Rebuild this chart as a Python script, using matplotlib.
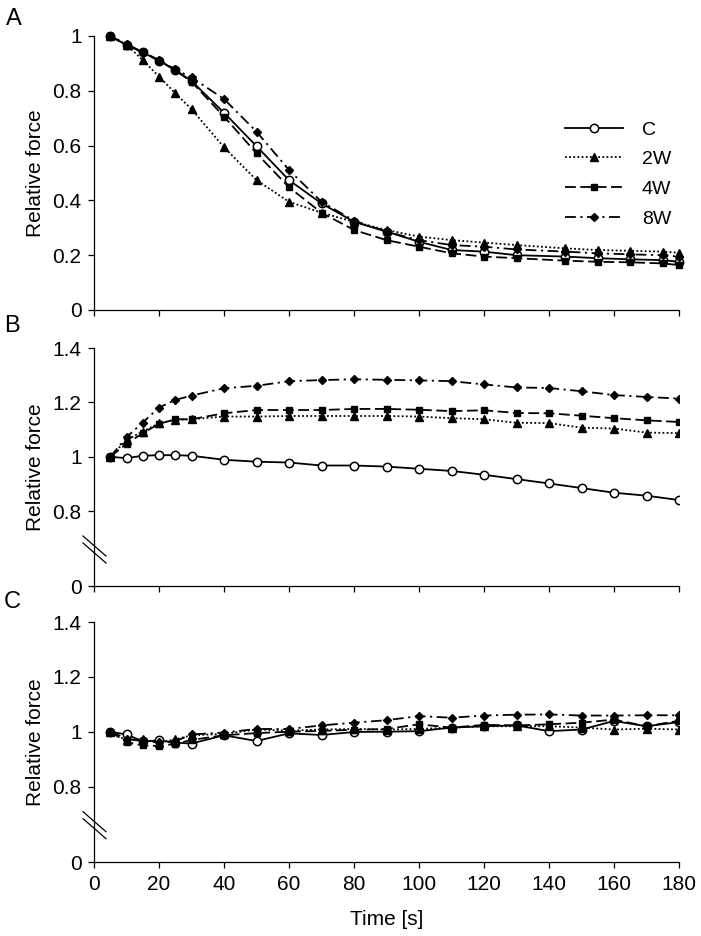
import matplotlib
matplotlib.use("Agg")
import matplotlib.pyplot as plt

plt.rcParams['font.family'] = ['Liberation Sans', 'DejaVu Sans']

# ---------------- data ----------------
series_names = ["C", "2W", "4W", "8W"]

t_a = [5, 10, 15, 20, 25, 30, 40, 50, 60, 70, 80, 90, 100, 110, 120, 130, 145, 155, 165, 175, 180]
a_C  = [1.0, 0.967, 0.940, 0.910, 0.876, 0.836, 0.720, 0.598, 0.474, 0.389, 0.322, 0.286, 0.249, 0.219, 0.213, 0.200, 0.195, 0.189, 0.185, 0.182, 0.176]
a_2W = [1.0, 0.968, 0.912, 0.852, 0.791, 0.733, 0.594, 0.474, 0.395, 0.355, 0.322, 0.292, 0.268, 0.255, 0.246, 0.237, 0.225, 0.219, 0.216, 0.213, 0.209]
a_4W = [1.0, 0.965, 0.940, 0.910, 0.875, 0.833, 0.706, 0.572, 0.448, 0.355, 0.292, 0.255, 0.231, 0.207, 0.195, 0.189, 0.180, 0.176, 0.174, 0.170, 0.164]
a_8W = [1.0, 0.970, 0.942, 0.912, 0.878, 0.849, 0.770, 0.651, 0.511, 0.395, 0.326, 0.286, 0.255, 0.237, 0.231, 0.221, 0.213, 0.207, 0.203, 0.200, 0.195]

t_bc = [5, 10, 15, 20, 25, 30, 40, 50, 60, 70, 80, 90, 100, 110, 120, 130, 140, 150, 160, 170, 180]
b_C  = [1.0, 0.995, 1.004, 1.006, 1.006, 1.004, 0.989, 0.982, 0.979, 0.968, 0.968, 0.964, 0.956, 0.948, 0.934, 0.918, 0.902, 0.885, 0.868, 0.857, 0.841]
b_2W = [1.0, 1.062, 1.093, 1.123, 1.136, 1.138, 1.148, 1.148, 1.150, 1.150, 1.150, 1.150, 1.148, 1.142, 1.138, 1.125, 1.124, 1.107, 1.104, 1.089, 1.087]
b_4W = [1.0, 1.048, 1.087, 1.121, 1.138, 1.138, 1.160, 1.172, 1.172, 1.172, 1.176, 1.176, 1.173, 1.168, 1.171, 1.161, 1.160, 1.151, 1.142, 1.134, 1.128]
b_8W = [1.0, 1.072, 1.126, 1.181, 1.209, 1.225, 1.252, 1.261, 1.278, 1.282, 1.285, 1.283, 1.281, 1.278, 1.266, 1.255, 1.253, 1.241, 1.227, 1.220, 1.214]

c_C  = [1.0, 0.990, 0.965, 0.968, 0.960, 0.957, 0.987, 0.966, 0.994, 0.988, 0.999, 1.000, 1.002, 1.015, 1.020, 1.023, 1.002, 1.008, 1.039, 1.020, 1.035]
c_2W = [1.0, 0.968, 0.972, 0.960, 0.972, 0.987, 0.992, 1.008, 1.004, 1.008, 1.010, 1.008, 1.010, 1.015, 1.020, 1.020, 1.020, 1.015, 1.008, 1.011, 1.008]
c_4W = [1.0, 0.962, 0.950, 0.948, 0.956, 0.970, 0.987, 0.995, 1.000, 1.003, 1.007, 1.010, 1.027, 1.015, 1.025, 1.023, 1.027, 1.033, 1.044, 1.020, 1.040]
c_8W = [1.0, 0.975, 0.965, 0.962, 0.965, 0.990, 0.997, 1.010, 1.010, 1.023, 1.033, 1.042, 1.057, 1.051, 1.059, 1.062, 1.063, 1.059, 1.059, 1.060, 1.060]

x_ticks = [0, 20, 40, 60, 80, 100, 120, 140, 160, 180]
a_yticks = [0, 0.2, 0.4, 0.6, 0.8, 1.0]
a_ylabels = ["0", "0.2", "0.4", "0.6", "0.8", "1"]
bc_yticks = [0.8, 1.0, 1.2, 1.4]
bc_ylabels = ["0.8", "1", "1.2", "1.4"]
bc_bottom = 0.525  # position where the broken axis shows "0"

# ---------------- styles ----------------
styles = {
    "C":  dict(linestyle='-', marker='o', markerfacecolor='white', markeredgecolor='black', markersize=6, markeredgewidth=1.1),
    "2W": dict(linestyle=(0, (1.0, 1.3)), marker='^', markerfacecolor='black', markeredgecolor='black', markersize=6),
    "4W": dict(linestyle=(0, (6, 2.5)), marker='s', markerfacecolor='black', markeredgecolor='black', markersize=5),
    "8W": dict(linestyle=(0, (6, 2.5, 1.2, 2.5)), marker='D', markerfacecolor='black', markeredgecolor='black', markersize=4.5),
}

FS = 15
W, H = 701, 936
fig = plt.figure(figsize=(W / 100, H / 100), dpi=100)

def ax_rect(top_px, bottom_px, left_px=94, right_px=679):
    return [left_px / W, 1 - bottom_px / H, (right_px - left_px) / W, (bottom_px - top_px) / H]

axA = fig.add_axes(ax_rect(36, 310))
axB = fig.add_axes(ax_rect(348, 586))
axC = fig.add_axes(ax_rect(622, 862))

def style_axis(ax):
    for s in ['top', 'right']:
        ax.spines[s].set_visible(False)
    for s in ['left', 'bottom']:
        ax.spines[s].set_linewidth(0.9)
    ax.set_xlim(0, 180)
    ax.set_xticks(x_ticks)
    ax.tick_params(direction='out', length=4, width=0.9, labelsize=FS, pad=5)
    ax.set_ylabel("Relative force", fontsize=FS, labelpad=5)

# Panel A
dataA = {"C": a_C, "2W": a_2W, "4W": a_4W, "8W": a_8W}
for name in series_names:
    axA.plot(t_a, dataA[name], color='black', lw=1.3, label=name, clip_on=False, **styles[name])
style_axis(axA)
axA.set_ylim(0, 1.0)
axA.set_yticks(a_yticks)
axA.set_yticklabels(a_ylabels)
axA.set_xticklabels([])
leg = axA.legend(loc='upper left', bbox_to_anchor=(0.805, 0.69), frameon=False, fontsize=14,
                 handlelength=3.0, handletextpad=0.95, labelspacing=0.62, borderpad=0, borderaxespad=0,
                 numpoints=1)

# Panels B and C with broken axis
def break_marks(ax):
    kw = dict(transform=ax.transAxes, color='black', lw=0.9, clip_on=False)
    ax_h = ax.get_position().height * H
    ax_w = ax.get_position().width * W
    def fx(px):
        return px / ax_w
    def fy(px):
        return px / ax_h
    y0 = 1 - (1.4 - 0.672) / (1.4 - bc_bottom)
    for off in (0, -7):
        ax.plot([fx(-11), fx(12)], [y0 + fy(off + 10), y0 + fy(off - 10)], **kw)

for ax, d in ((axB, {"C": b_C, "2W": b_2W, "4W": b_4W, "8W": b_8W}),
              (axC, {"C": c_C, "2W": c_2W, "4W": c_4W, "8W": c_8W})):
    for name in series_names:
        ax.plot(t_bc, d[name], color='black', lw=1.3, label=name, **styles[name])
    style_axis(ax)
    ax.set_ylim(bc_bottom, 1.4)
    ax.set_yticks([bc_bottom] + bc_yticks)
    ax.set_yticklabels(["0"] + bc_ylabels)
    break_marks(ax)

axB.set_xticklabels([])
axC.set_xticklabels([str(v) for v in x_ticks])
axC.set_xlabel("Time [s]", fontsize=FS, labelpad=12)

fig.text(6 / W, 1 - 8 / H, "A", fontsize=17, ha='left', va='top')
fig.text(4 / W, 1 - 315 / H, "B", fontsize=17, ha='left', va='top')
fig.text(4 / W, 1 - 591 / H, "C", fontsize=17, ha='left', va='top')

fig.savefig("out.png", dpi=100)
